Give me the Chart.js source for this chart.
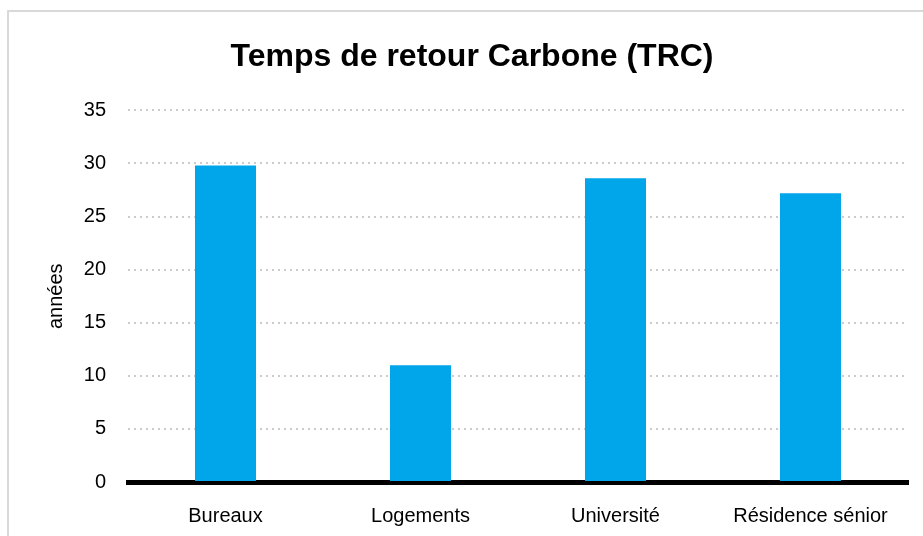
<!DOCTYPE html>
<html lang="fr">
<head>
<meta charset="utf-8">
<script src="https://cdn.jsdelivr.net/npm/chart.js@4/dist/chart.umd.min.js"></script>
<style>
  html, body { margin: 0; padding: 0; background: #fff; overflow: hidden; }
  #frame {
    position: absolute; left: 7px; top: 10px; width: 1000px; height: 1000px;
    border-left: 2px solid #d9d9d9; border-top: 2px solid #d9d9d9;
  }
  #chart { position: absolute; left: 0; top: 0; }
</style>
</head>
<body>
<div id="frame"></div>
<canvas id="chart" width="923" height="536"></canvas>
<script>
const categories = ['Bureaux', 'Logements', 'Université', 'Résidence sénior'];
const trcValues = [29.8, 11.0, 28.6, 27.2];
const yTicks = [0, 5, 10, 15, 20, 25, 30, 35];

const FONT = '"Liberation Sans", Arial, sans-serif';

new Chart(document.getElementById('chart'), {
  type: 'bar',
  data: {
    labels: categories,
    datasets: [{
      label: 'TRC',
      data: trcValues,
      backgroundColor: '#00a5ea',
      borderWidth: 0,
      categoryPercentage: 1,
      barPercentage: 0.313
    }]
  },
  options: {
    responsive: false,
    animation: false,
    layout: { padding: { left: 36, right: 15, top: 0, bottom: 0 } },
    plugins: {
      legend: { display: false },
      tooltip: { enabled: false },
      title: {
        display: true,
        text: 'Temps de retour Carbone (TRC)',
        color: '#000',
        font: { family: FONT, size: 32, weight: 'bold', lineHeight: 1.2 },
        padding: { top: 38, bottom: 34 }
      }
    },
    scales: {
      x: {
        grid: { display: false },
        border: { color: '#000', width: 5 },
        ticks: {
          color: '#000',
          padding: 14,
          font: { family: FONT, size: 20 }
        },
        afterFit(scale) { scale.height = 54; }
      },
      y: {
        min: 0,
        max: 35,
        afterBuildTicks(scale) { scale.ticks = yTicks.map(v => ({ value: v })); },
        border: { display: false, dash: [2, 4] },
        grid: {
          color: '#cccccc',
          lineWidth: 2,
          drawTicks: false
        },
        ticks: {
          color: '#000',
          padding: 22,
          font: { family: FONT, size: 20 }
        },
        title: {
          display: true,
          text: 'années',
          color: '#000',
          font: { family: FONT, size: 20 },
          padding: { top: 8, bottom: 0 }
        },
        afterFit(scale) { scale.width = 92; }
      }
    }
  }
});
</script>
</body>
</html>
